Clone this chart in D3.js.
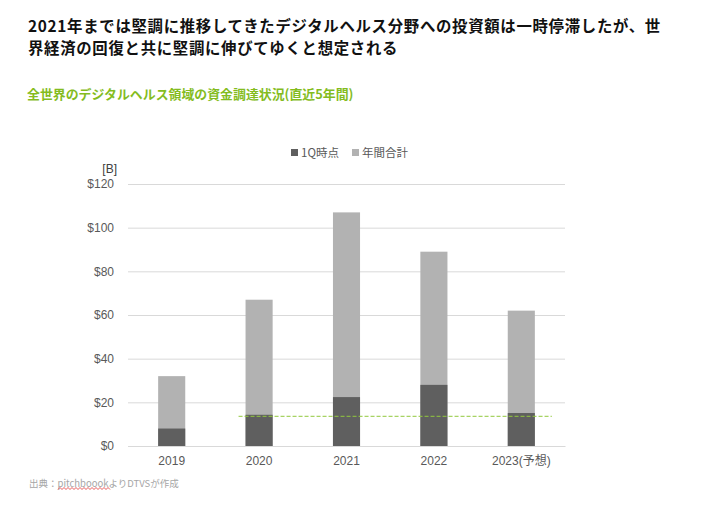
<!DOCTYPE html>
<html><head><meta charset="utf-8">
<script src="https://cdn.jsdelivr.net/npm/d3@7"></script>
<style>
html,body{margin:0;padding:0;background:#fff;}
svg{display:block;}
</style>
</head><body>
<script>
const categories = ["2019","2020","2021","2022","2023(予想)"];
const annualTotal = [32, 67, 107, 89, 62];
const q1Values = [8, 14.3, 22.4, 28, 15.1];
const yTicks = [0, 20, 40, 60, 80, 100, 120];
const refLineValue = 13.6;
const seriesNames = ["1Q時点", "年間合計"];

const W = 711, H = 505;
const svg = d3.select("body").append("svg").attr("width", W).attr("height", H);
const jp = "'Noto Sans CJK JP','Noto Sans',sans-serif";
const lat = "'Liberation Sans','Noto Sans CJK JP',Arial,sans-serif";

// Title (two lines)
const titleLines = ["2021年までは堅調に推移してきたデジタルヘルス分野への投資額は一時停滞したが、世",
                    "界経済の回復と共に堅調に伸びてゆくと想定される"];
titleLines.forEach((t, i) => {
  svg.append("text").attr("x", 28).attr("y", 31.5 + i * 22.5).attr("font-family", jp)
    .attr("font-size", 15.4).attr("font-weight", 700).attr("letter-spacing", 0.7)
    .attr("fill", "#111").text(t);
});

svg.append("text").attr("x", 27).attr("y", 99).attr("font-family", jp)
  .attr("font-size", 12.9).attr("font-weight", 700).attr("fill", "#84BC1E")
  .text("全世界のデジタルヘルス領域の資金調達状況(直近5年間)");

const x = d3.scaleBand().domain(categories).range([128, 565]).paddingInner(0.69).paddingOuter(0.345);
const y = d3.scaleLinear().domain([0, 120]).range([446, 184]);

// grid
const gAxis = svg.append("g").attr("transform", "translate(128,0)")
  .call(d3.axisLeft(y).tickValues(yTicks).tickSize(-437).tickFormat(d => "$" + d));
gAxis.select(".domain").remove();
gAxis.selectAll(".tick line").attr("stroke", "#D9D9D9").attr("stroke-width", 1);
gAxis.selectAll(".tick text").attr("font-family", lat).attr("font-size", 12)
  .attr("fill", "#595959").attr("x", -14);

svg.append("text").attr("x", 117).attr("y", 173).attr("text-anchor", "end")
  .attr("font-family", lat).attr("font-size", 12).attr("fill", "#404040").text("[B]");

// bars
const data = categories.map((c, i) => ({c, total: annualTotal[i], q1: q1Values[i]}));
svg.append("g").selectAll("rect").data(data).join("rect")
  .attr("x", d => x(d.c)).attr("width", x.bandwidth())
  .attr("y", d => y(d.total)).attr("height", d => y(0) - y(d.total))
  .attr("fill", "#B2B2B2");
svg.append("g").selectAll("rect").data(data).join("rect")
  .attr("x", d => x(d.c)).attr("width", x.bandwidth())
  .attr("y", d => y(d.q1)).attr("height", d => y(0) - y(d.q1))
  .attr("fill", "#5F5F5F");

// x axis
const gx = svg.append("g").attr("transform", "translate(0,446)")
  .call(d3.axisBottom(x).tickSize(0).tickPadding(10));
gx.select(".domain").attr("stroke", "#D9D9D9");
gx.selectAll(".tick text").attr("font-family", lat).attr("font-size", 12).attr("fill", "#595959");

// reference dashed line
svg.append("line")
  .attr("x1", x(categories[1]) - 7)
  .attr("x2", x(categories[4]) + x.bandwidth() + 17)
  .attr("y1", y(refLineValue)).attr("y2", y(refLineValue))
  .attr("stroke", "#92C83E").attr("stroke-width", 1).attr("stroke-dasharray", "4,2");

// legend
const legColors = ["#5F5F5F", "#B2B2B2"];
const legX = [291, 352];
seriesNames.forEach((n, i) => {
  svg.append("rect").attr("x", legX[i]).attr("y", 149).attr("width", 7).attr("height", 7).attr("fill", legColors[i]);
  svg.append("text").attr("x", legX[i] + 10).attr("y", 157).attr("font-family", jp)
    .attr("font-size", 11.5).attr("fill", "#595959").text(n);
});

// footnote
svg.append("text").attr("x", 29).attr("y", 487).attr("font-family", jp)
  .attr("font-size", 9.5).attr("fill", "#A6A6A6").text("出典：pitchboookよりDTVSが作成");
// spell-check style wavy underline
let pts = [];
for (let k = 0; k <= 26; k++) pts.push([58 + k * 2, k % 2 ? 487.5 : 489.5]);
svg.append("path").attr("d", d3.line()(pts)).attr("fill", "none").attr("stroke", "#E03030").attr("stroke-width", 0.8);
</script>
</body></html>
